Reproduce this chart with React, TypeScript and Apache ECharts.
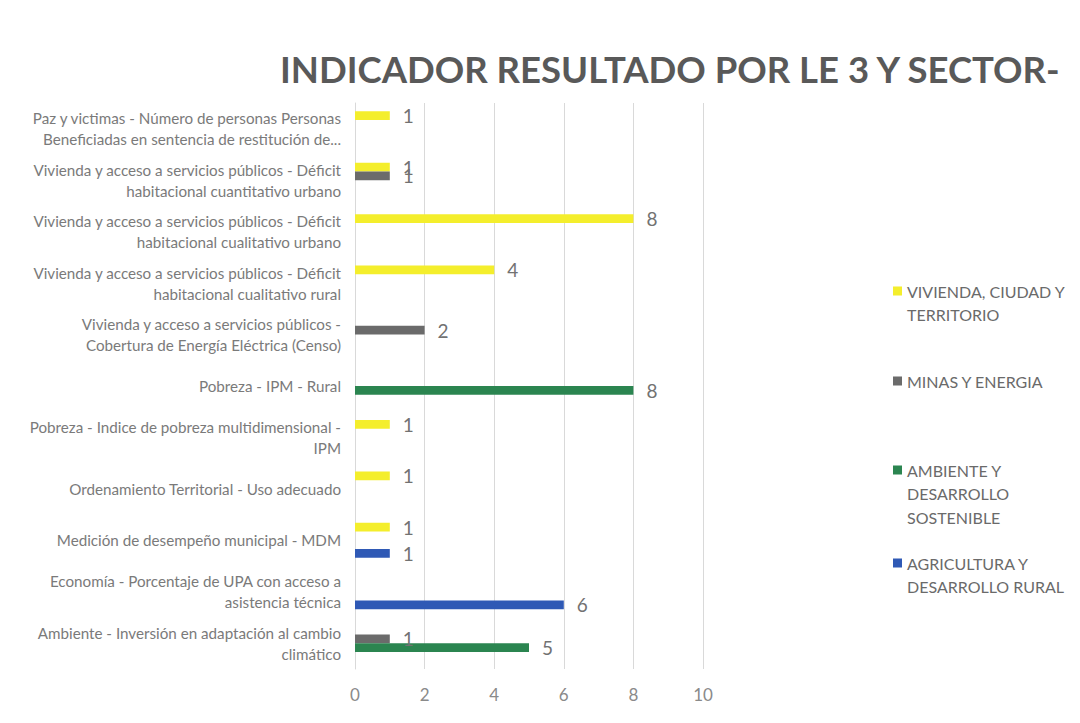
import React, { useEffect, useRef } from "react";
import * as echarts from "echarts";

const categories = [
  "Ambiente - Inversión en adaptación al cambio\nclimático",
  "Economía - Porcentaje de UPA con acceso a\nasistencia técnica",
  "Medición de desempeño municipal - MDM",
  "Ordenamiento Territorial - Uso adecuado",
  "Pobreza - Indice de pobreza multidimensional -\nIPM",
  "Pobreza - IPM - Rural",
  "Vivienda y acceso a servicios públicos -\nCobertura de Energía Eléctrica (Censo)",
  "Vivienda y acceso a servicios públicos - Déficit\nhabitacional cualitativo rural",
  "Vivienda y acceso a servicios públicos - Déficit\nhabitacional cualitativo urbano",
  "Vivienda y acceso a servicios públicos - Déficit\nhabitacional cuantitativo urbano",
  "Paz y victimas - Número de personas Personas\nBeneficiadas en sentencia de restitución de...",
];

const vivienda = [null, null, 1, 1, 1, null, null, 4, 8, 1, 1];
const minas = [1, null, null, null, null, null, 2, null, null, 1, null];
const ambiente = [5, null, null, null, null, 8, null, null, null, null, null];
const agricultura = [null, 6, 1, null, null, null, null, null, null, null, null];

const seriesNames = [
  "VIVIENDA, CIUDAD Y TERRITORIO",
  "MINAS Y ENERGIA",
  "AMBIENTE Y DESARROLLO SOSTENIBLE",
  "AGRICULTURA Y DESARROLLO RURAL",
];
const legendLines: Record<string, string> = {
  "VIVIENDA, CIUDAD Y TERRITORIO": "VIVIENDA, CIUDAD Y\nTERRITORIO",
  "MINAS Y ENERGIA": "MINAS Y ENERGIA",
  "AMBIENTE Y DESARROLLO SOSTENIBLE": "AMBIENTE Y\nDESARROLLO\nSOSTENIBLE",
  "AGRICULTURA Y DESARROLLO RURAL": "AGRICULTURA Y\nDESARROLLO RURAL",
};
const xTicks = [0, 2, 4, 6, 8, 10];

const colors = ["#f4ee2c", "#6b6b6b", "#2b8550", "#2f59b5"];
const FONT = "Lato";
const LH = 23.5;

export default function App() {
  const ref = useRef<HTMLDivElement>(null);
  useEffect(() => {
    if (!ref.current) return;
    const chart = echarts.init(ref.current, null, { renderer: "svg" });
    const dataSets = [vivienda, minas, ambiente, agricultura];
    const iconCenters = [291, 381, 470, 563];
    const legends = seriesNames.map((name, i) => {
      const n = legendLines[name].split("\n").length;
      const H = 9 + (n - 1) * LH;
      const icon = `path://M0,0L9,0L9,9L0,9Z M0,${H}L0,${H}Z`;
      return {
        data: [{ name, icon }],
        orient: "vertical",
        left: 893,
        top: iconCenters[i] - LH / 2,
        padding: 0,
        itemWidth: 9,
        itemHeight: H,
        selectedMode: false,
        formatter: (nm: string) => legendLines[nm],
        textStyle: {
          fontFamily: FONT,
          fontSize: 16,
          color: "#6a6a6a",
          lineHeight: LH,
        },
      };
    });
    const option: any = {
      animation: false,
      backgroundColor: "#ffffff",
      color: colors,
      title: {
        text: "INDICADOR RESULTADO POR LE 3 Y SECTOR-",
        left: 280,
        top: 50,
        padding: 0,
        textStyle: {
          fontFamily: FONT,
          fontWeight: "bold",
          fontSize: 36.5,
          color: "#595959",
        },
      },
      legend: legends,
      grid: { left: 355, right: 377, top: 103, bottom: 54, containLabel: false },
      xAxis: {
        type: "value",
        min: 0,
        max: 10,
        interval: 2,
        axisLine: { show: false },
        axisTick: { show: false },
        splitLine: { show: true, lineStyle: { color: "#d9d9d9", width: 1 } },
        axisLabel: {
          fontFamily: FONT,
          fontSize: 17,
          color: "#8a8a8a",
          margin: 17,
          formatter: (v: number) => (xTicks.includes(v) ? String(v) : ""),
        },
      },
      yAxis: {
        type: "category",
        data: categories,
        axisLine: { show: true, lineStyle: { color: "#d9d9d9" } },
        axisTick: { show: false },
        axisLabel: {
          fontFamily: FONT,
          fontSize: 15.2,
          color: "#7a7a7a",
          lineHeight: 21,
          margin: 14,
          align: "right",
        },
      },
      series: seriesNames.map((name, i) => ({
        name,
        type: "bar",
        data: dataSets[i],
        barGap: "0%",
        barCategoryGap: "32%",
        label: {
          show: true,
          position: "right",
          distance: 13,
          fontFamily: FONT,
          fontSize: 19,
          color: "#727272",
        },
      })),
    };
    chart.setOption(option);
    return () => chart.dispose();
  }, []);
  return (
    <div
      ref={ref}
      style={{ position: "fixed", left: 0, top: 0, width: 1080, height: 723 }}
    />
  );
}
